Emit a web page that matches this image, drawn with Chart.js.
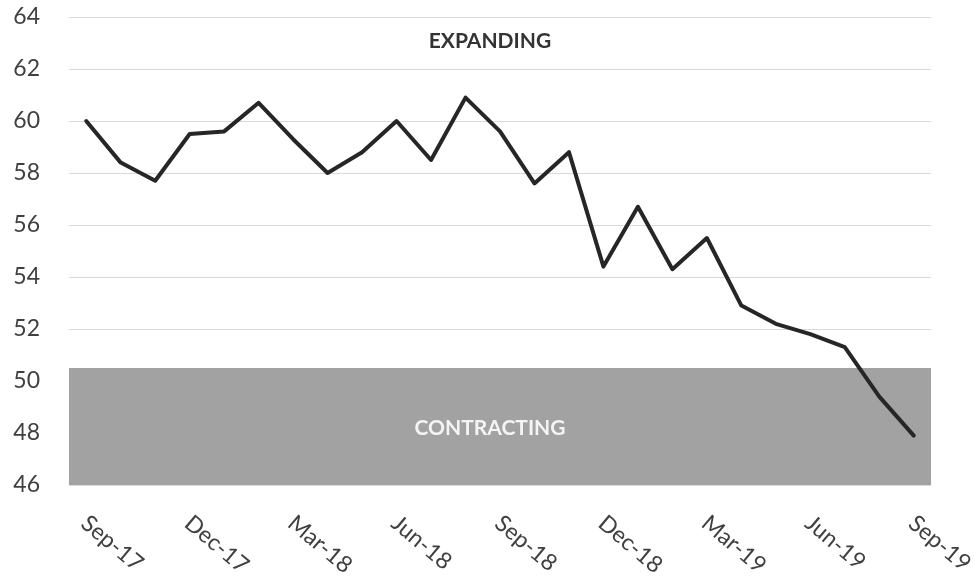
<!DOCTYPE html>
<html>
<head>
<meta charset="utf-8">
<script src="https://cdn.jsdelivr.net/npm/chart.js@4/dist/chart.umd.min.js"></script>
<style>
  html, body { margin: 0; padding: 0; background: #fff; }
  #wrap { width: 980px; height: 584px; position: relative; }
</style>
</head>
<body>
<div id="wrap"><canvas id="pmi-chart"></canvas></div>
<script>
// Monthly readings, Sep-17 .. Sep-19
const months = [
  "Sep-17", "Oct-17", "Nov-17", "Dec-17", "Jan-18", "Feb-18", "Mar-18",
  "Apr-18", "May-18", "Jun-18", "Jul-18", "Aug-18", "Sep-18", "Oct-18",
  "Nov-18", "Dec-18", "Jan-19", "Feb-19", "Mar-19", "Apr-19", "May-19",
  "Jun-19", "Jul-19", "Aug-19", "Sep-19",
];
const index = [
  60.0, 58.4, 57.7, 59.5, 59.6, 60.7, 59.3,
  58.0, 58.8, 60.0, 58.5, 60.9, 59.6, 57.6,
  58.8, 54.4, 56.7, 54.3, 55.5, 52.9, 52.2,
  51.8, 51.3, 49.4, 47.9,
];
const yTicks = [46, 48, 50, 52, 54, 56, 58, 60, 62, 64];
const labelEvery = 3;
const bandFrom = 46;
const bandTo = 50.5;
const expandingLabel = "EXPANDING";
const contractingLabel = "CONTRACTING";

const FONT = "Lato, 'Open Sans', sans-serif";

/**
 * Grey "contracting" zone plus the two zone captions.
 */
const zonePlugin = {
  id: "zones",
  beforeDatasetsDraw(chart) {
    const { ctx, chartArea, scales } = chart;
    const top = scales.y.getPixelForValue(bandTo);
    const bottom = scales.y.getPixelForValue(bandFrom);
    ctx.save();
    ctx.fillStyle = "#a2a2a2";
    ctx.fillRect(chartArea.left, top, chartArea.right - chartArea.left, bottom - top);

    const midX = (chartArea.left + chartArea.right) / 2 - 10;
    ctx.textAlign = "center";
    ctx.textBaseline = "middle";
    ctx.font = `bold 21px ${FONT}`;
    ctx.fillStyle = "#f4f4f4";
    ctx.fillText(contractingLabel, midX, scales.y.getPixelForValue(48.2));
    ctx.fillStyle = "#333333";
    ctx.fillText(expandingLabel, midX, scales.y.getPixelForValue(63.05));
    ctx.restore();
  },
};

/**
 * Quarterly x labels, rotated clockwise and starting at the tick.
 */
const slantedLabels = {
  id: "slantedLabels",
  afterDraw(chart) {
    const { ctx, scales, chartArea } = chart;
    ctx.save();
    ctx.font = `23px ${FONT}`;
    ctx.fillStyle = "#404040";
    ctx.textAlign = "left";
    ctx.textBaseline = "middle";
    months.forEach((m, i) => {
      if (i % labelEvery !== 0) return;
      const x = scales.x.getPixelForValue(i);
      ctx.save();
      ctx.translate(x - 2, chartArea.bottom + 35);
      ctx.rotate((40 * Math.PI) / 180);
      ctx.fillText(m, 0, 0);
      ctx.restore();
    });
    ctx.restore();
  },
};

const ctx = document.getElementById("pmi-chart");

new Chart(ctx, {
  type: "line",
  data: {
    labels: months,
    datasets: [
      {
        label: "Index",
        data: index,
        borderColor: "#262626",
        borderWidth: 4,
        borderJoinStyle: "round",
        borderCapStyle: "round",
        pointRadius: 0,
        tension: 0,
        fill: false,
      },
    ],
  },
  options: {
    responsive: true,
    maintainAspectRatio: false,
    animation: false,
    layout: {
      padding: { top: 17, right: 49, left: 0, bottom: 0 },
    },
    plugins: {
      legend: { display: false },
      tooltip: { enabled: false },
    },
    scales: {
      x: {
        offset: true,
        grid: { display: false },
        border: { display: false },
        ticks: { display: false },
        afterFit(scale) {
          scale.height = 99;
        },
      },
      y: {
        min: yTicks[0],
        max: yTicks[yTicks.length - 1],
        border: { display: false },
        grid: {
          color: "#d9d9d9",
          lineWidth: 1,
          drawTicks: false,
        },
        afterBuildTicks(scale) {
          scale.ticks = yTicks.map((v) => ({ value: v }));
        },
        afterFit(scale) {
          scale.width = 69;
          scale.paddingTop = 0;
          scale.paddingBottom = 0;
        },
        ticks: {
          padding: 29,
          color: "#404040",
          font: { family: FONT, size: 23 },
        },
      },
    },
  },
  plugins: [zonePlugin, slantedLabels],
});
</script>
</body>
</html>
